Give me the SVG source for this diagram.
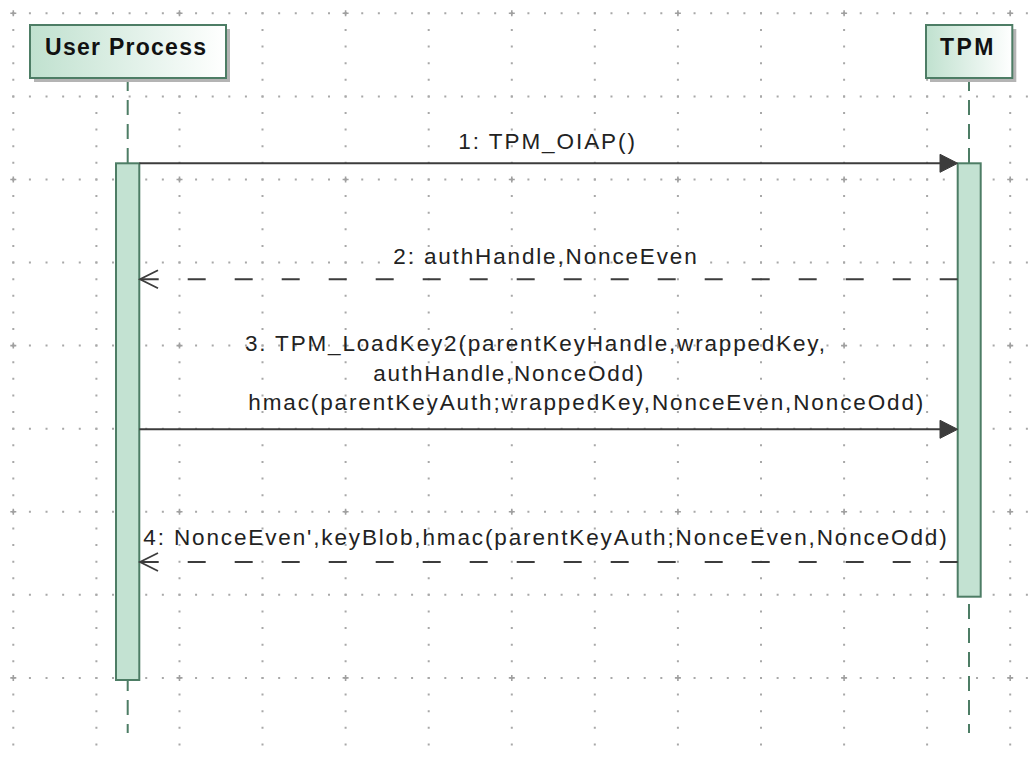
<svg xmlns="http://www.w3.org/2000/svg" width="1032" height="758" viewBox="0 0 1032 758">
<defs>
<linearGradient id="boxGrad" x1="0" y1="0" x2="1" y2="0">
<stop offset="0" stop-color="#c0e1cf"/>
<stop offset="1" stop-color="#ffffff"/>
</linearGradient>
<style>
.gh{stroke:#a8a8a8;stroke-width:2;stroke-dasharray:2 14.616;fill:none}
.plus{stroke:#a0a0a0;stroke-width:1.6;fill:none}
.life{stroke:#4d7d65;stroke-width:2;stroke-dasharray:15 9;stroke-dashoffset:2;fill:none}
.act{fill:#c3e2d2;stroke:#4d7d65;stroke-width:2}
.box{fill:url(#boxGrad);stroke:#4d7d65;stroke-width:2}
.shadow{fill:#b4b4b4}
.title{font-family:"Liberation Sans",Arial,sans-serif;font-weight:bold;font-size:23px;fill:#111}
.msg{font-family:"Liberation Sans",Arial,sans-serif;font-size:22.5px;fill:#222}
.call{stroke:#3c3c3c;stroke-width:2;fill:none}
.ret{stroke:#3c3c3c;stroke-width:2;stroke-dasharray:18 29;fill:none}
.head{fill:#3c3c3c;stroke:#3c3c3c;stroke-width:1}
.open{stroke:#3c3c3c;stroke-width:1.8;fill:none}
</style>
</defs>
<rect width="1032" height="758" fill="#ffffff"/>
<g id="grid">
<path class="gh" d="M12.3 13.3H1032M12.3 96.4H1032M12.3 179.5H1032M12.3 262.5H1032M12.3 345.6H1032M12.3 428.7H1032M12.3 511.8H1032M12.3 594.8H1032M12.3 677.9H1032"/>
<path class="gh" d="M13.3 12.3V758M96.4 12.3V758M179.5 12.3V758M262.5 12.3V758M345.6 12.3V758M428.7 12.3V758M511.8 12.3V758M594.8 12.3V758M677.9 12.3V758M761 12.3V758M844.1 12.3V758M927.1 12.3V758M1010.2 12.3V758"/>
<path class="plus" d="M10.3 13.3h6M13.3 10.3v6M176.5 13.3h6M179.5 10.3v6M342.6 13.3h6M345.6 10.3v6M508.8 13.3h6M511.8 10.3v6M674.9 13.3h6M677.9 10.3v6M841.1 13.3h6M844.1 10.3v6M1007.2 13.3h6M1010.2 10.3v6
M10.3 179.5h6M13.3 176.5v6M176.5 179.5h6M179.5 176.5v6M342.6 179.5h6M345.6 176.5v6M508.8 179.5h6M511.8 176.5v6M674.9 179.5h6M677.9 176.5v6M841.1 179.5h6M844.1 176.5v6M1007.2 179.5h6M1010.2 176.5v6
M10.3 345.6h6M13.3 342.6v6M176.5 345.6h6M179.5 342.6v6M342.6 345.6h6M345.6 342.6v6M508.8 345.6h6M511.8 342.6v6M674.9 345.6h6M677.9 342.6v6M841.1 345.6h6M844.1 342.6v6M1007.2 345.6h6M1010.2 342.6v6
M10.3 511.8h6M13.3 508.8v6M176.5 511.8h6M179.5 508.8v6M342.6 511.8h6M345.6 508.8v6M508.8 511.8h6M511.8 508.8v6M674.9 511.8h6M677.9 508.8v6M841.1 511.8h6M844.1 508.8v6M1007.2 511.8h6M1010.2 508.8v6
M10.3 677.9h6M13.3 674.9v6M176.5 677.9h6M179.5 674.9v6M342.6 677.9h6M345.6 674.9v6M508.8 677.9h6M511.8 674.9v6M674.9 677.9h6M677.9 674.9v6M841.1 677.9h6M844.1 674.9v6M1007.2 677.9h6M1010.2 674.9v6"/>
</g>
<g id="user-process">
<line class="life" x1="127.7" y1="78" x2="127.7" y2="733"/>
<rect class="shadow" x="34" y="29" width="196" height="53"/>
<rect class="box" x="30" y="25" width="196" height="53"/>
<text class="title" x="45" y="55" textLength="161" lengthAdjust="spacing">User Process</text>
<rect class="act" x="116" y="163.3" width="23.3" height="516.7"/>
</g>
<g id="tpm">
<line class="life" x1="969" y1="78" x2="969" y2="733"/>
<rect class="shadow" x="930" y="29" width="86.3" height="53"/>
<rect class="box" x="926" y="25" width="86.3" height="53"/>
<text class="title" x="940" y="55" textLength="53.3" lengthAdjust="spacing">TPM</text>
<rect class="act" x="957.7" y="163.3" width="23" height="433.4"/>
</g>
<g id="connectors">
<g id="msg1">
<line class="call" x1="139.3" y1="163.3" x2="945" y2="163.3"/>
<polygon class="head" points="957.7,163.3 940,154.3 940,172.3"/>
<text class="msg" x="458.3" y="149" textLength="176.7" lengthAdjust="spacing">1: TPM_OIAP()</text>
</g>
<g id="msg2">
<path class="ret" d="M957.7 279.3H140"/>
<polyline class="open" points="158,270.3 140,279.3 158,288.3"/>
<text class="msg" x="393.3" y="264" textLength="303.4" lengthAdjust="spacing">2: authHandle,NonceEven</text>
</g>
<g id="msg3">
<line class="call" x1="139.3" y1="429.3" x2="945" y2="429.3"/>
<polygon class="head" points="957.7,429.3 940,420.3 940,438.3"/>
<text class="msg" x="245" y="351" textLength="580" lengthAdjust="spacing">3. TPM_LoadKey2(parentKeyHandle,wrappedKey,</text>
<text class="msg" x="373.3" y="380.5" textLength="270" lengthAdjust="spacing">authHandle,NonceOdd)</text>
<text class="msg" x="248.3" y="410" textLength="675" lengthAdjust="spacing">hmac(parentKeyAuth;wrappedKey,NonceEven,NonceOdd)</text>
</g>
<g id="msg4">
<path class="ret" d="M957.7 562H140"/>
<polyline class="open" points="158,553 140,562 158,571"/>
<text class="msg" x="143.3" y="545" textLength="803.4" lengthAdjust="spacing">4: NonceEven',keyBlob,hmac(parentKeyAuth;NonceEven,NonceOdd)</text>
</g>
</g>
</svg>
